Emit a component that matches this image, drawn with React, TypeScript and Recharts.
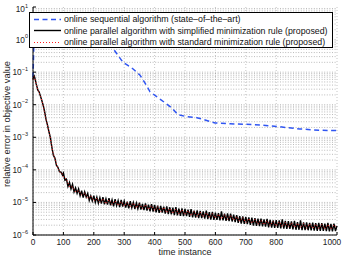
import React from 'react';
import {
  LineChart,
  Line,
  XAxis,
  YAxis,
  CartesianGrid,
  ReferenceLine,
} from 'recharts';

const FONT = '"Liberation Sans", Arial, Helvetica, sans-serif';

// online parallel algorithm, simplified minimization rule (black solid)
const blackTimes = [
  0, 2, 4, 6, 8, 10, 13, 16, 20, 24, 28, 33, 38, 43, 48, 53, 57, 62, 67, 72, 77, 82, 87, 92, 97,
  100, 105, 110, 115, 120, 125, 130, 135, 140, 145,
  150, 155, 160, 165, 170, 175, 180, 185, 190, 195,
  200, 205, 210, 215, 220, 225, 230, 235, 240, 245,
  250, 255, 260, 265, 270, 275, 280, 285, 290, 295,
  300, 305, 310, 315, 320, 325, 330, 335, 340, 345,
  350, 355, 360, 365, 370, 375, 380, 385, 390, 395,
  400, 405, 410, 415, 420, 425, 430, 435, 440, 445,
  450, 455, 460, 465, 470, 475, 480, 485, 490, 495,
  500, 505, 510, 515, 520, 525, 530, 535, 540, 545,
  550, 555, 560, 565, 570, 575, 580, 585, 590, 595,
  600, 605, 610, 615, 620, 625, 630, 635, 640, 645,
  650, 655, 660, 665, 670, 675, 680, 685, 690, 695,
  700, 705, 710, 715, 720, 725, 730, 735, 740, 745,
  750, 755, 760, 765, 770, 775, 780, 785, 790, 795,
  800, 805, 810, 815, 820, 825, 830, 835, 840, 845,
  850, 855, 860, 865, 870, 875, 880, 885, 890, 895,
  900, 905, 910, 915, 920, 925, 930, 935, 940, 945,
  950, 955, 960, 965, 970, 975, 980, 985, 990, 995, 1000,
];
const blackValues = [
  6.0e-2, 7.1e-2, 7.6e-2, 6.6e-2, 5.6e-2, 4.5e-2, 3.6e-2, 2.8e-2, 2.5e-2, 1.9e-2, 1.45e-2, 1.0e-2, 6.3e-3,
  3.5e-3, 2.3e-3, 1.4e-3, 1.0e-3, 5.0e-4, 2.8e-4, 2.3e-4, 1.4e-4, 1.2e-4, 8.8e-5, 8.5e-5, 6.9e-5,
  8.0e-5, 4.8e-5, 5.2e-5, 3.1e-5, 4.1e-5, 2.6e-5, 3.6e-5, 2.1e-5, 2.8e-5, 1.9e-5,
  2.6e-5, 1.6e-5, 2.3e-5, 1.4e-5, 2.1e-5, 1.45e-5, 1.9e-5, 1.15e-5, 1.6e-5, 1.1e-5,
  1.6e-5, 1.0e-5, 1.45e-5, 9.5e-6, 1.4e-5, 9.2e-6, 1.45e-5, 8.8e-6, 1.3e-5, 8.6e-6,
  1.35e-5, 8.2e-6, 1.2e-5, 7.6e-6, 1.25e-5, 8.0e-6, 1.15e-5, 7.2e-6, 1.2e-5, 7.5e-6,
  1.1e-5, 7.0e-6, 1.05e-5, 6.6e-6, 1.1e-5, 6.9e-6, 1.0e-5, 6.3e-6, 9.6e-6, 6.4e-6,
  9.8e-6, 6.0e-6, 9.0e-6, 5.8e-6, 9.4e-6, 5.6e-6, 8.6e-6, 5.3e-6, 8.9e-6, 5.2e-6,
  8.4e-6, 5.0e-6, 8.0e-6, 4.8e-6, 7.8e-6, 4.9e-6, 7.4e-6, 4.5e-6, 7.6e-6, 4.4e-6,
  7.1e-6, 4.3e-6, 6.9e-6, 4.1e-6, 7.2e-6, 4.0e-6, 6.5e-6, 3.9e-6, 6.6e-6, 3.8e-6,
  6.3e-6, 3.8e-6, 6.0e-6, 3.6e-6, 6.2e-6, 3.5e-6, 5.6e-6, 3.4e-6, 5.7e-6, 3.3e-6,
  5.5e-6, 3.3e-6, 5.3e-6, 3.2e-6, 5.6e-6, 3.1e-6, 5.0e-6, 2.95e-6, 5.1e-6, 2.9e-6,
  4.9e-6, 2.9e-6, 4.7e-6, 2.8e-6, 5.3e-6, 2.8e-6, 4.5e-6, 2.7e-6, 4.6e-6, 2.65e-6,
  4.5e-6, 2.6e-6, 4.2e-6, 2.5e-6, 4.1e-6, 2.35e-6, 3.8e-6, 2.25e-6, 3.7e-6, 2.2e-6,
  3.6e-6, 2.15e-6, 3.5e-6, 2.05e-6, 3.4e-6, 1.95e-6, 3.3e-6, 1.9e-6, 3.2e-6, 1.88e-6,
  3.2e-6, 1.85e-6, 3.0e-6, 1.8e-6, 3.1e-6, 1.72e-6, 2.9e-6, 1.7e-6, 2.8e-6, 1.66e-6,
  2.85e-6, 1.65e-6, 2.8e-6, 1.6e-6, 3.0e-6, 1.58e-6, 2.7e-6, 1.55e-6, 2.65e-6, 1.55e-6,
  2.6e-6, 1.5e-6, 2.7e-6, 1.45e-6, 2.5e-6, 1.45e-6, 2.8e-6, 1.42e-6, 2.45e-6, 1.4e-6,
  2.45e-6, 1.4e-6, 2.35e-6, 1.38e-6, 2.4e-6, 1.36e-6, 2.3e-6, 1.35e-6, 2.35e-6, 1.33e-6,
  2.3e-6, 1.35e-6, 2.25e-6, 1.32e-6, 2.35e-6, 1.3e-6, 2.2e-6, 1.3e-6, 2.25e-6, 1.32e-6, 1.9e-6,
];

// online parallel algorithm, standard minimization rule (red dotted)
const redTimes = [
  0, 3, 6, 10, 15, 20, 25, 30, 35, 40, 45, 50, 55, 60, 65, 70, 75, 80, 85, 90, 95,
  100, 110, 120, 130, 140, 150, 160, 170, 180, 190,
  200, 210, 220, 230, 240, 250, 260, 270, 280, 290,
  300, 310, 320, 330, 340, 350, 360, 370, 380, 390,
  400, 410, 420, 430, 440, 450, 460, 470, 480, 490,
  500, 510, 520, 530, 540, 550, 560, 570, 580, 590,
  600, 610, 620, 630, 640, 650, 660, 670, 680, 690,
  700, 710, 720, 730, 740, 750, 760, 770, 780, 790,
  800, 810, 820, 830, 840, 850, 860, 870, 880, 890,
  900, 910, 920, 930, 940, 950, 960, 970, 980, 990, 1000,
];
const redValues = [
  6.0e-2, 7.4e-2, 6.4e-2, 4.6e-2, 3.0e-2, 2.4e-2, 1.8e-2, 1.25e-2, 8.0e-3, 4.6e-3, 3.0e-3,
  1.9e-3, 1.2e-3, 6.5e-4, 3.6e-4, 2.5e-4, 1.8e-4, 1.2e-4, 1.0e-4, 8.2e-5, 7.8e-5,
  6.0e-5, 5.2e-5, 3.0e-5, 3.0e-5, 2.1e-5, 2.3e-5, 1.7e-5, 1.95e-5, 1.3e-5, 1.6e-5,
  1.1e-5, 1.35e-5, 1.0e-5, 1.3e-5, 9.0e-6, 1.2e-5, 8.6e-6, 1.12e-5, 8.0e-6, 1.07e-5,
  7.6e-6, 1.0e-5, 7.2e-6, 9.6e-6, 6.8e-6, 9.0e-6, 6.4e-6, 8.6e-6, 6.0e-6, 8.0e-6,
  5.6e-6, 7.4e-6, 5.2e-6, 7.0e-6, 4.8e-6, 6.6e-6, 4.6e-6, 6.2e-6, 4.4e-6, 5.9e-6,
  4.2e-6, 5.6e-6, 3.9e-6, 5.3e-6, 3.7e-6, 5.0e-6, 3.6e-6, 4.8e-6, 3.4e-6, 4.5e-6,
  3.3e-6, 4.4e-6, 3.1e-6, 4.2e-6, 3.0e-6, 4.0e-6, 2.8e-6, 3.7e-6, 2.6e-6, 3.4e-6,
  2.4e-6, 3.2e-6, 2.3e-6, 3.0e-6, 2.15e-6, 2.9e-6, 2.05e-6, 2.75e-6, 1.95e-6, 2.6e-6,
  1.9e-6, 2.55e-6, 1.8e-6, 2.45e-6, 1.75e-6, 2.4e-6, 1.7e-6, 2.3e-6, 1.65e-6, 2.25e-6,
  1.6e-6, 2.2e-6, 1.58e-6, 2.15e-6, 1.55e-6, 2.1e-6, 1.52e-6, 2.1e-6, 1.5e-6, 2.05e-6, 1.7e-6,
];

// online sequential algorithm (blue dashed)
const blueTimes = [
  0, 3, 10, 50, 150, 230, 260, 296, 325, 352, 368, 385, 408, 434, 457, 477, 506, 539, 566, 599,
  648, 700, 747, 812, 878, 940, 1000,
];
const blueValues = [
  7.0e-2, 8.0e-1, 2.5, 3.0, 2.0, 1.0, 5.9e-1, 2.0e-1, 1.35e-1, 8.1e-2, 4.7e-2, 2.5e-2, 1.74e-2,
  1.15e-2, 7.9e-3, 4.9e-3, 4.3e-3, 4.0e-3, 3.4e-3, 2.75e-3, 2.6e-3, 2.5e-3, 2.4e-3, 2.1e-3,
  1.8e-3, 1.65e-3, 1.6e-3,
];

const xTicks = [0, 100, 200, 300, 400, 500, 600, 700, 800, 900, 1000];
const yTicks = [1e-6, 1e-5, 1e-4, 1e-3, 1e-2, 1e-1, 1, 10];
const yExponents = ['−6', '−5', '−4', '−3', '−2', '−1', '0', '1'];
const minorMantissas = [2, 3, 4, 5, 6, 7, 8, 9];

const legendItems = [
  { label: 'online sequential algorithm (state\u2013of\u2013the\u2013art)', color: '#2f55f2', dash: '5 3.5', width: 1.5 },
  { label: 'online parallel algorithm with simplified minimization rule (proposed)', color: '#000000', dash: undefined, width: 1.4 },
  { label: 'online parallel algorithm with standard minimization rule (proposed)', color: '#ff2020', dash: '1 2', width: 1 },
];

const blackData = blackTimes.map((t, i) => ({ t, v: blackValues[i] }));
const redData = redTimes.map((t, i) => ({ t, v: redValues[i] }));
const blueData = blueTimes.map((t, i) => ({ t, v: blueValues[i] }));

// minor log grid lines, dotted like matlab's "grid minor"
const minorGrid: number[] = [];
yTicks.slice(0, -1).forEach(d => {
  minorGrid.push(d);
  minorMantissas.forEach(m => minorGrid.push(m * d));
});

const XTick = (props: any) => {
  const { x, y, payload } = props;
  return (
    <text x={x} y={y} dy="0.72em" textAnchor="middle" fontSize={8.3} fontFamily={FONT} fill="#222">
      {payload.value}
    </text>
  );
};

const YTick = (props: any) => {
  const { x, y, index } = props;
  return (
    <text x={x} y={y + 3} textAnchor="end" fontSize={8.3} fontFamily={FONT} fill="#222">
      <tspan>10</tspan>
      <tspan dy={-4.5} fontSize={5.5}>{yExponents[index]}</tspan>
    </text>
  );
};

const Empty = () => <g />;

export default function App() {
  return (
    <div style={{ position: 'absolute', left: 0, top: 0, width: 348, height: 257, background: '#fff' }}>
      <LineChart
        width={348}
        height={257}
        margin={{ top: 7, right: 11, bottom: 0, left: 0 }}
      >
        <CartesianGrid horizontal={false} stroke="#b8b8b8" strokeDasharray="1 2" strokeWidth={0.8} />
        {minorGrid.map(v => (
          <ReferenceLine key={`g-${v}`} y={v} stroke="#8f8f8f" strokeDasharray="1 1.6" strokeWidth={0.6} />
        ))}
        <XAxis
          dataKey="t"
          type="number"
          domain={[0, 1000]}
          ticks={xTicks}
          allowDuplicatedCategory={false}
          height={22}
          stroke="#000"
          tickSize={-3}
          tickMargin={7}
          tick={<XTick />}
        />
        <XAxis
          xAxisId="top"
          dataKey="t"
          type="number"
          orientation="top"
          domain={[0, 1000]}
          ticks={xTicks}
          height={0}
          stroke="#000"
          tickSize={-3}
          tick={<Empty />}
        />
        <YAxis
          type="number"
          scale="log"
          domain={[1e-6, 10]}
          allowDataOverflow
          ticks={yTicks}
          width={33}
          stroke="#000"
          tickSize={-3}
          tickMargin={8}
          tick={<YTick />}
        />
        <YAxis
          yAxisId="right"
          orientation="right"
          type="number"
          scale="log"
          domain={[1e-6, 10]}
          allowDataOverflow
          ticks={yTicks}
          width={0}
          stroke="#000"
          tickSize={-3}
          tick={<Empty />}
        />
        <Line
          data={blueData}
          dataKey="v"
          stroke="#2f55f2"
          strokeWidth={1.5}
          strokeDasharray="5 3.5"
          dot={false}
          isAnimationActive={false}
        />
        <Line
          data={blackData}
          dataKey="v"
          stroke="#000"
          strokeWidth={1.4}
          dot={false}
          isAnimationActive={false}
        />
        <Line
          data={redData}
          dataKey="v"
          stroke="#ff2020"
          strokeWidth={1}
          strokeDasharray="1 2"
          dot={false}
          isAnimationActive={false}
        />
      </LineChart>

      {/* axis titles */}
      <svg width={348} height={257} style={{ position: 'absolute', left: 0, top: 0, pointerEvents: 'none' }}>
        <text x={185} y={255} textAnchor="middle" fontSize={9} fontFamily={FONT} fill="#222">
          time instance
        </text>
        <text
          x={7}
          y={124}
          transform="rotate(-90, 7, 124)"
          textAnchor="middle"
          dominantBaseline="central"
          fontSize={9.3}
          fontFamily={FONT}
          fill="#222"
        >
          relative error in objective value
        </text>
      </svg>

      {/* legend box over the plot */}
      <div
        style={{
          position: 'absolute',
          left: 29,
          top: 12,
          width: 302,
          height: 34,
          background: '#fff',
          border: '1px solid #000',
          fontFamily: FONT,
          fontSize: 8.8,
          color: '#111',
        }}
      >
        {legendItems.map((item, i) => (
          <div
            key={`legend-${i}`}
            style={{ position: 'absolute', left: 3, top: 0.5 + i * 11.6, height: 11, display: 'flex', alignItems: 'center', whiteSpace: 'nowrap' }}
          >
            <svg width={29} height={11} style={{ display: 'block' }}>
              <line x1={1} x2={28} y1={5.5} y2={5.5} stroke={item.color} strokeWidth={item.width} strokeDasharray={item.dash} />
            </svg>
            <span style={{ marginLeft: 2 }}>{item.label}</span>
          </div>
        ))}
      </div>
    </div>
  );
}
